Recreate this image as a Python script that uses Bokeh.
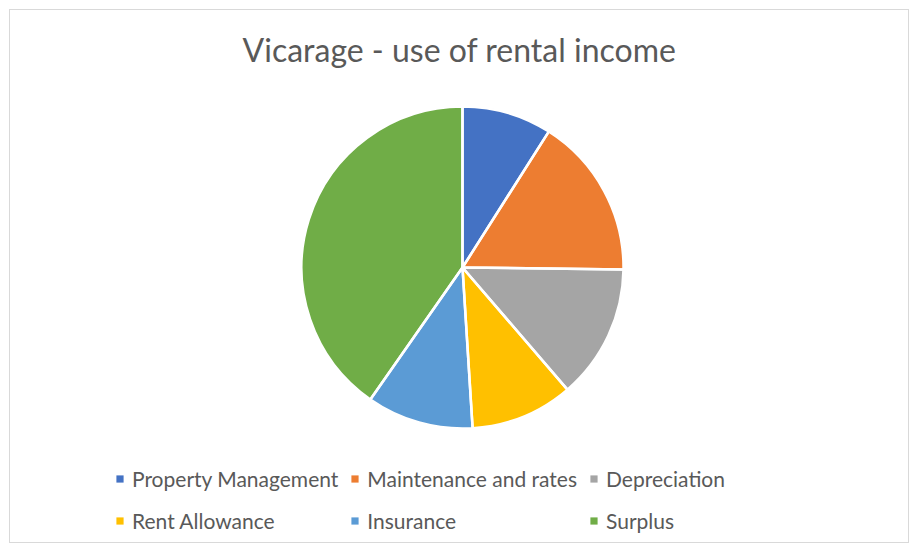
import math
from bokeh.plotting import figure
from bokeh.models import Range1d, Legend, LegendItem, ColumnDataSource
from bokeh.embed import file_html
from bokeh.resources import INLINE

categories = ["Property Management", "Maintenance and rates", "Depreciation",
              "Rent Allowance", "Insurance", "Surplus"]
values = [9.0, 16.2, 13.5, 10.3, 10.7, 40.3]
colors = ["#4472C4", "#ED7D31", "#A5A5A5", "#FFC000", "#5B9BD5", "#70AD47"]

total = sum(values)
starts, ends = [], []
acc = 0.0
for v in values:
    starts.append(math.pi / 2 - 2 * math.pi * acc / total)
    acc += v
    ends.append(math.pi / 2 - 2 * math.pi * acc / total)

FW, TOP, FH = 898, 63, 469
cx, cy = 452, 194

p = figure(frame_width=FW, frame_height=FH, output_backend="svg", toolbar_location=None,
           x_range=Range1d(-cx, FW - cx), y_range=Range1d(-(FH - cy), cy),
           min_border_left=0, min_border_right=0, min_border_bottom=0, min_border_top=TOP,
           title="Vicarage - use of rental income")
p.styles = {"border": "1px solid #d9d9d9", "margin-left": "9px", "margin-top": "9px"}
p.title.align = "center"
p.title.text_font = "Lato"
p.title.text_font_size = "32px"
p.title.text_font_style = "normal"
p.title.text_color = "#595959"
p.title.standoff = 10
p.axis.visible = False
p.grid.visible = False
p.outline_line_color = None

renderers = []
for i in range(len(values)):
    src = ColumnDataSource(dict(x=[0], y=[0], start=[starts[i]], end=[ends[i]],
                                color=[colors[i]]))
    r = p.wedge(x="x", y="y", radius=161, start_angle="start", end_angle="end",
                direction="clock", fill_color="color", line_color=None, source=src)
    renderers.append(r)

# white separators between the slices
sep = ColumnDataSource(dict(x=[0] * len(values), y=[0] * len(values), start=starts, end=ends))
p.wedge(x="x", y="y", radius=161, start_angle="start", end_angle="end", direction="clock",
        fill_color=None, line_color="white", line_width=2.5, source=sep)

items = [LegendItem(label=categories[i], renderers=[renderers[i]]) for i in range(len(values))]
legend = Legend(items=items, location=(105, 7), orientation="horizontal", ncols=3,
                glyph_width=9, glyph_height=9, label_standoff=8, label_height=30,
                label_text_font="Lato", label_text_font_size="21px",
                label_text_color="#595959", spacing=12, padding=0, margin=0,
                border_line_color=None, background_fill_alpha=0)
p.add_layout(legend, "center")

open("out.html", "w").write(file_html(p, INLINE))
